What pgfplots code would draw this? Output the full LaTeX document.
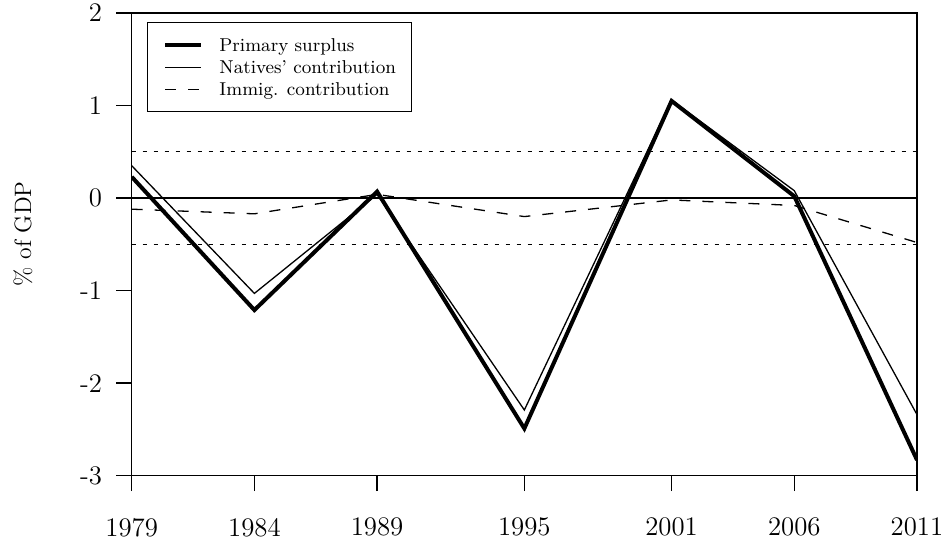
\documentclass[border=0pt]{standalone}
\usepackage{pgfplots}
\pgfplotsset{compat=1.18}
\begin{document}
\begin{tikzpicture}
\useasboundingbox (-65.85pt,-32.65pt) rectangle (406.15pt,237.85pt);
\begin{axis}[
  at={(0pt,0pt)}, anchor=south west,
  scale only axis,
  width=392.65pt, height=231.35pt,
  xmin=1979, xmax=2011, ymin=-3, ymax=2,
  xtick={1979,1984,1989,1995,2001,2006,2011},
  xticklabels={1979,1984,1989,1995,2001,2006,2011},
  ytick={-3,-2,-1,0,1,2},
  yticklabels={-3,-2,-1,0,1,2},
  xtick pos=left, ytick pos=left,
  tick align=outside,
  major tick length=7.75pt,
  tick style={black, line width=0.7pt},
  axis line style={black, line width=0.7pt},
  ticklabel style={font=\fontsize{13.4}{16}\selectfont},
  xticklabel shift=9.9pt,
  yticklabel shift=3.6pt,
  ylabel={\% of GDP},
  ylabel style={font=\fontsize{11.85}{14}\selectfont, at={(axis description cs:-0.1384,0.5224)}, anchor=center, rotate=0},
  legend cell align=left,
  legend image code/.code={\draw[#1] (0pt,0pt) -- (18pt,0pt);},
  legend style={at={(axis description cs:0,1)}, anchor=north west, xshift=7.8pt, yshift=-4.65pt,
    font=\fontsize{9.3}{11}\selectfont, draw=black, line width=0.5pt, fill=white,
    inner xsep=7.85pt, inner ysep=5.7pt, row sep=0pt,
    nodes={inner sep=0pt, text height=8.8pt, text depth=2.2pt},
    cells={anchor=west},
    /tikz/every odd column/.append style={column sep=8pt}},
]
\addplot[black, line width=2pt, line join=miter] coordinates {
  (1979,0.23) (1984,-1.21) (1989,0.07) (1995,-2.49) (2001,1.05) (2006,0.02) (2011,-2.83)};
\addlegendentry{Primary surplus}
\addplot[black, line width=0.65pt, line join=miter] coordinates {
  (1979,0.35) (1984,-1.03) (1989,0.04) (1995,-2.29) (2001,1.06) (2006,0.08) (2011,-2.34)};
\addlegendentry{Natives' contribution}
\addplot[black, line width=0.65pt, dash pattern=on 5.5pt off 6pt] coordinates {
  (1979,-0.12) (1984,-0.17) (1989,0.04) (1995,-0.20) (2001,-0.02) (2006,-0.08) (2011,-0.48)};
\addlegendentry{Immig. contribution}
\addplot[black, line width=0.7pt, forget plot] coordinates {(1979,0) (2011,0)};
\addplot[black, line width=0.6pt, dash pattern=on 2pt off 3.5pt, forget plot] coordinates {(1979,0.5) (2011,0.5)};
\addplot[black, line width=0.6pt, dash pattern=on 2pt off 3.5pt, forget plot] coordinates {(1979,-0.5) (2011,-0.5)};
\end{axis}
\end{tikzpicture}
\end{document}
